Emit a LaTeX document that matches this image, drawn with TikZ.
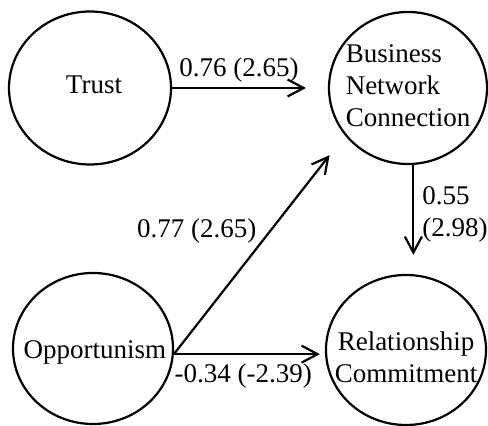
\documentclass[tikz,border=0pt]{standalone}
\usepackage{fontspec}
\setmainfont{Liberation Serif}
\usetikzlibrary{shapes.geometric,arrows.meta}
\newcommand{\pathfont}{\fontsize{13.5pt}{16pt}\selectfont}
\tikzset{
	construct/.style={draw, ellipse, line width=1.1pt, inner sep=0pt},	%latent variable
	effect/.style={line width=1.1pt, -{Straight Barb[length=8pt,width=8.5pt]}},	%path
	coef/.style={inner sep=2.5pt}	%path coefficient (t-value)
}

\begin{document}
\begin{tikzpicture}[x=0.5pt,y=-0.5pt,font=\pathfont]		%1 unit = 1px, y down
	\useasboundingbox (0,0) rectangle (488,426);
	
	%Trust
	\node[construct, minimum width=81pt, minimum height=76.5pt,
		label={[xshift=2pt,yshift=1.5pt]center:Trust}] (trust) at (90,88) {};
	
	%Business Network Connection
	\node[construct, minimum width=79pt, minimum height=76pt,
		label={[align=left,yshift=1pt]center:Business\\Network\\Connection}] (bnc) at (408,88) {};
	
	%Opportunism
	\node[construct, minimum width=80pt, minimum height=75.5pt,
		label={[xshift=1pt,yshift=-2pt]center:Opportunism}] (opp) at (93,348.5) {};
	
	%Relationship Commitment
	\node[construct, minimum width=80pt, minimum height=75pt,
		label={[align=center,yshift=-3.5pt]center:Relationship\\Commitment}] (rc) at (406,350) {};
	
	%paths
	\draw[effect, shorten >=11pt] (trust) -- (bnc)
		node[coef, pos=.43, above] {0.76 (2.65)};
	\draw[effect, shorten >=9.5pt] (bnc.-86) -- (bnc.-86 |- rc.north)
		node[coef, pos=.45, right=1.5pt, align=left] {0.55\\(2.98)};
	\draw[effect, shorten >=12.5pt] (opp.-4) -- (bnc.217)
		node[coef, pos=.565, left=4pt] {0.77 (2.65)};
	\draw[effect, shorten >=2.5pt] (opp.-4) -- (opp.-4 -| rc.west)
		node[coef, pos=.46, below=2pt] {-0.34 (-2.39)};
	
\end{tikzpicture}
\end{document}
